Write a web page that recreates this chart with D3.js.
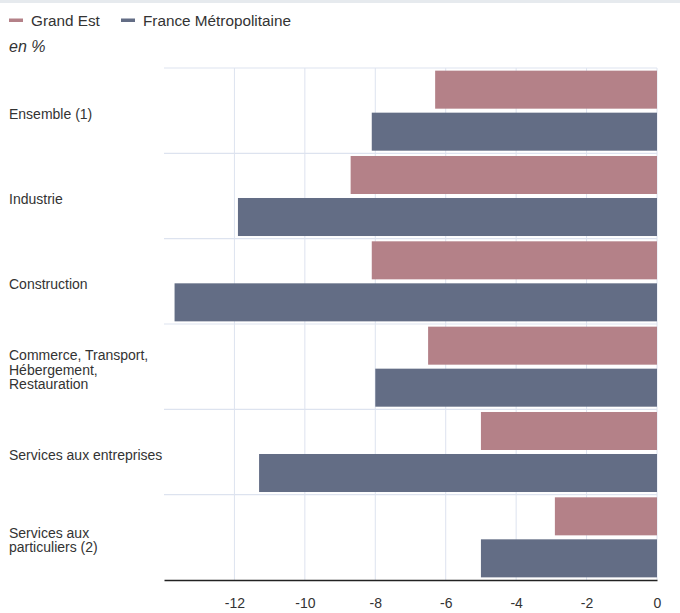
<!DOCTYPE html>
<html>
<head>
<meta charset="utf-8">
<script src="https://cdn.jsdelivr.net/npm/d3@7"></script>
<style>
  html, body { margin: 0; padding: 0; background: #fff; }
  svg { display: block; font-family: "Liberation Sans", Arial, sans-serif; }
</style>
</head>
<body>
<svg id="chart" width="680" height="613"></svg>
<script>
const categories = [
  ["Ensemble (1)"],
  ["Industrie"],
  ["Construction"],
  ["Commerce, Transport,", "Hébergement,", "Restauration"],
  ["Services aux entreprises"],
  ["Services aux", "particuliers (2)"]
];
const seriesNames = ["Grand Est", "France Métropolitaine"];
const grandEst = [-6.3, -8.7, -8.1, -6.5, -5.0, -2.9];
const franceMetro = [-8.1, -11.9, -13.7, -8.0, -11.3, -5.0];
const tickValues = [-12, -10, -8, -6, -4, -2, 0];
const unitLabel = "en %";

(function () {
const colors = ["#b48188", "#636d85"];
const svg = d3.select("#chart");
const W = 680;

// top strip
svg.append("rect").attr("x", 0).attr("y", 0).attr("width", W).attr("height", 3).attr("fill", "#e6eaee");

// legend
const legend = svg.append("g");
const legX = [9, 121];
seriesNames.forEach((name, i) => {
  legend.append("rect").attr("x", legX[i]).attr("y", 18.5).attr("width", 14).attr("height", 3.5).attr("fill", colors[i]);
  legend.append("text").attr("x", legX[i] + 22).attr("y", 25.5).attr("font-size", 15.3).attr("fill", "#333").text(name);
});
svg.append("text").attr("x", 9).attr("y", 52).attr("font-size", 16).attr("font-style", "italic").attr("fill", "#333").text(unitLabel);

const mLeft = 164, mRight = 657, mTop = 68, mBottom = 580;
const x = d3.scaleLinear().domain([-14, 0]).range([mLeft, mRight]);
const idx = d3.range(categories.length);
const y = d3.scaleBand().domain(idx).range([mTop, mBottom]).padding(0);
const inner = d3.scaleBand().domain([0, 1]).range([0, y.bandwidth()]).paddingInner(0.095).paddingOuter(0.063);

// grid
const grid = svg.append("g");
grid.selectAll("line.v").data(tickValues).join("line")
  .attr("x1", d => x(d)).attr("x2", d => x(d))
  .attr("y1", mTop).attr("y2", mBottom)
  .attr("stroke", "#dde3ef").attr("stroke-width", 1);
grid.selectAll("line.h").data(idx).join("line")
  .attr("x1", mLeft).attr("x2", mRight)
  .attr("y1", d => y(d)).attr("y2", d => y(d))
  .attr("stroke", "#dde3ef").attr("stroke-width", 1.2);

// bars
const series = [grandEst, franceMetro];
series.forEach((vals, s) => {
  svg.append("g").selectAll("rect").data(vals).join("rect")
    .attr("x", d => x(d))
    .attr("width", d => x(0) - x(d))
    .attr("y", (d, i) => y(i) + inner(s))
    .attr("height", inner.bandwidth())
    .attr("fill", colors[s]);
});

// category labels
const lineH = 14.2;
const labels = svg.append("g");
categories.forEach((lines, i) => {
  const cy = y(i) + y.bandwidth() / 2 + 3;
  const t = labels.append("text").attr("font-size", 14).attr("fill", "#333");
  lines.forEach((ln, k) => {
    t.append("tspan").attr("x", 9)
      .attr("y", cy + (k - (lines.length - 1) / 2) * lineH + 5)
      .text(ln);
  });
});

// x axis
const axis = svg.append("g").attr("transform", `translate(0,${mBottom})`)
  .call(d3.axisBottom(x).tickValues(tickValues).tickSize(0).tickPadding(18).tickFormat(d3.format("d")));
axis.select(".domain").attr("stroke", "#222").attr("stroke-width", 1.6);
axis.selectAll("text").attr("font-size", 14).attr("fill", "#333")
  .attr("font-family", "Liberation Sans, Arial, sans-serif");
axis.selectAll("text").text(d => d === 0 ? "0" : "-" + Math.abs(d));
})();
</script>
</body>
</html>
